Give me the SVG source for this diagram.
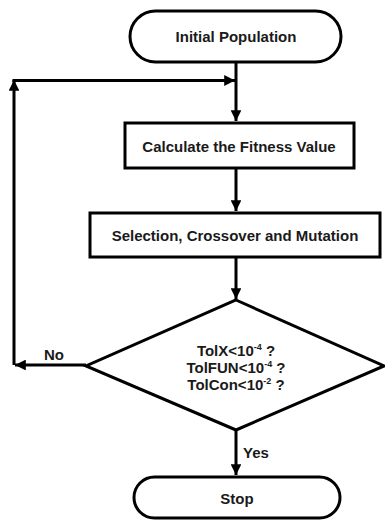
<svg xmlns="http://www.w3.org/2000/svg" width="385" height="520" viewBox="0 0 385 520">
<style>
.s{fill:#fff;stroke:#000;stroke-width:3}
.t{font-family:"Liberation Sans",Arial,sans-serif;font-weight:bold;font-size:15px;fill:#1a1a1a;text-anchor:middle}
.c{fill:none;stroke:#000;stroke-width:3}
.sup{font-size:9px}
</style>
<defs>
<marker id="a" viewBox="0 0 10 10" refX="10" refY="5" markerWidth="3.6" markerHeight="3.6" orient="auto" markerUnits="strokeWidth">
<path d="M0,0L10,5L0,10z" fill="#000"/>
</marker>
</defs>
<rect width="385" height="520" fill="#fff"/>
<g id="connectors">
<line class="c" x1="236" y1="62" x2="236" y2="121" marker-end="url(#a)"/>
<line class="c" x1="236" y1="168" x2="236" y2="211" marker-end="url(#a)"/>
<line class="c" x1="236" y1="257" x2="236" y2="299" marker-end="url(#a)"/>
<line class="c" x1="236" y1="430" x2="236" y2="475" marker-end="url(#a)"/>
<line class="c" x1="86" y1="365" x2="15" y2="365" marker-end="url(#a)"/>
<line class="c" x1="14" y1="365" x2="14" y2="80" marker-end="url(#a)"/>
<line class="c" x1="12.5" y1="80.5" x2="235" y2="80.5" marker-end="url(#a)"/>
<text class="t" x="54" y="360">No</text>
<text class="t" x="256" y="458">Yes</text>
</g>
<g id="n1">
<rect class="s" x="130" y="11" width="211" height="51" rx="25.5"/>
<text class="t" x="236" y="42">Initial Population</text>
</g>
<g id="n2">
<rect class="s" x="125" y="123" width="229" height="45"/>
<text class="t" x="239" y="152">Calculate the Fitness Value</text>
</g>
<g id="n3">
<rect class="s" x="90" y="213" width="290" height="44"/>
<text class="t" x="235" y="241">Selection, Crossover and Mutation</text>
</g>
<g id="n4">
<polygon class="s" points="236,300 384,366 236,430 86,366"/>
<text class="t" x="236" y="356">TolX&lt;10<tspan class="sup" dy="-6">-4</tspan><tspan dy="6"> ?</tspan></text>
<text class="t" x="236" y="373">TolFUN&lt;10<tspan class="sup" dy="-6">-4</tspan><tspan dy="6"> ?</tspan></text>
<text class="t" x="236" y="390">TolCon&lt;10<tspan class="sup" dy="-6">-2</tspan><tspan dy="6"> ?</tspan></text>
</g>
<g id="n5">
<rect class="s" x="134" y="477" width="206" height="41" rx="20.5"/>
<text class="t" x="237" y="504">Stop</text>
</g>
</svg>
